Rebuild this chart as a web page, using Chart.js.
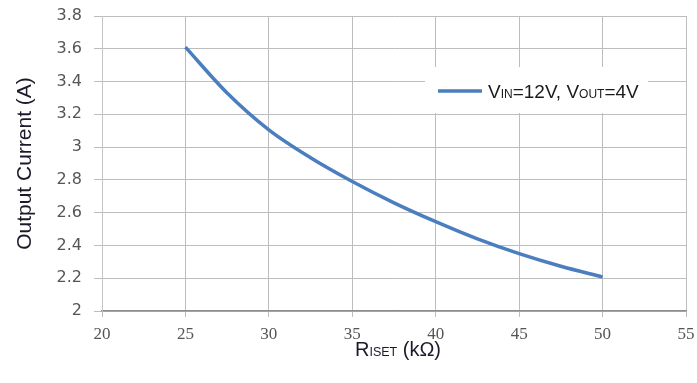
<!DOCTYPE html>
<html>
<head>
<meta charset="utf-8">
<script src="https://cdn.jsdelivr.net/npm/chart.js@4"></script>
<style>
  html, body { margin: 0; padding: 0; background: #fff; }
  #wrap { width: 697px; height: 383px; }
</style>
</head>
<body>
<div id="wrap"><canvas id="chart" width="697" height="383"></canvas></div>
<script>
// RISET (kOhm) vs output current
const risetValues = [25, 27.5, 30, 32.5, 35, 37.5, 40, 42.5, 45, 47.5, 50];
const currentValues = [3.61, 3.33, 3.105, 2.935, 2.79, 2.66, 2.545, 2.44, 2.35, 2.273, 2.207];

const xTicks = [20, 25, 30, 35, 40, 45, 50, 55];
const yTicks = [2, 2.2, 2.4, 2.6, 2.8, 3, 3.2, 3.4, 3.6, 3.8];

const yTitle = 'Output Current (A)';
// [text, isSmall]
const xTitleParts = [['R', false], ['ISET', true], [' (kΩ)', false]];
const legendParts = [['V', false], ['IN', true], ['=12V, V', false], ['OUT', true], ['=4V', false]];

const lineColor = '#4a7ebf';
const sans = '"Liberation Sans", Arial, sans-serif';

function drawParts(ctx, parts, x, y, big, small, color) {
  ctx.save();
  ctx.fillStyle = color;
  ctx.textBaseline = 'alphabetic';
  ctx.textAlign = 'left';
  let cx = x;
  parts.forEach(([t, sm]) => {
    ctx.font = (sm ? small : big) + 'px ' + sans;
    ctx.fillText(t, cx, y);
    cx += ctx.measureText(t).width;
  });
  ctx.restore();
}

function partsWidth(ctx, parts, big, small) {
  let w = 0;
  ctx.save();
  parts.forEach(([t, sm]) => {
    ctx.font = (sm ? small : big) + 'px ' + sans;
    w += ctx.measureText(t).width;
  });
  ctx.restore();
  return w;
}

const extras = {
  id: 'extras',
  afterDraw(chart) {
    const ctx = chart.ctx;
    const area = chart.chartArea;

    // legend box inside the plot
    ctx.save();
    ctx.fillStyle = '#fff';
    ctx.fillRect(425, 67, 223, 46);
    ctx.strokeStyle = lineColor;
    ctx.lineWidth = 3.5;
    ctx.beginPath();
    ctx.moveTo(438, 91);
    ctx.lineTo(482, 91);
    ctx.stroke();
    ctx.restore();
    drawParts(ctx, legendParts, 488, 98, 19, 12, '#1a1a1a');

    // x axis title with small-caps style subscript
    const w = partsWidth(ctx, xTitleParts, 20, 12.5);
    const cx = (area.left + area.right) / 2;
    drawParts(ctx, xTitleParts, cx - w / 2 + 4, 356, 20, 12.5, '#1a1a2a');
  }
};

new Chart(document.getElementById('chart'), {
  type: 'line',
  data: {
    datasets: [{
      label: 'VIN=12V, VOUT=4V',
      data: risetValues.map((x, i) => ({ x, y: currentValues[i] })),
      borderColor: lineColor,
      borderWidth: 3.5,
      pointRadius: 0,
      fill: false,
      cubicInterpolationMode: 'monotone'
    }]
  },
  options: {
    responsive: false,
    animation: false,
    layout: { padding: { left: 0, right: 11, top: 16, bottom: 0 } },
    plugins: {
      legend: { display: false },
      tooltip: { enabled: false }
    },
    scales: {
      x: {
        type: 'linear',
        min: 20,
        max: 55,
        afterBuildTicks: s => { s.ticks = xTicks.map(v => ({ value: v })); },
        afterFit: s => { s.height = 72; s.paddingLeft = 0; s.paddingRight = 0; },
        grid: { color: '#bdbdbd', lineWidth: 1, tickLength: 6 },
        border: { color: '#8c8c8c', width: 1.5 },
        ticks: {
          padding: 7,
          color: '#555',
          font: { family: '"Liberation Serif", serif', size: 17 },
          callback: v => String(v)
        }
      },
      y: {
        min: 2,
        max: 3.8,
        afterBuildTicks: s => { s.ticks = yTicks.map(v => ({ value: v })); },
        afterFit: s => { s.width = 102; s.paddingTop = 0; s.paddingBottom = 0; },
        grid: { color: '#bdbdbd', lineWidth: 1, tickLength: 8 },
        border: { color: '#c4c4c4', width: 1 },
        ticks: {
          padding: 12,
          color: '#555',
          font: { family: '"DejaVu Sans", sans-serif', size: 16 },
          callback: v => String(+v.toFixed(1))
        },
        title: {
          display: true,
          text: yTitle,
          color: '#1a1a2a',
          font: { family: sans, size: 21 },
          padding: { top: 13, bottom: 0 }
        }
      }
    }
  },
  plugins: [extras]
});
</script>
</body>
</html>
